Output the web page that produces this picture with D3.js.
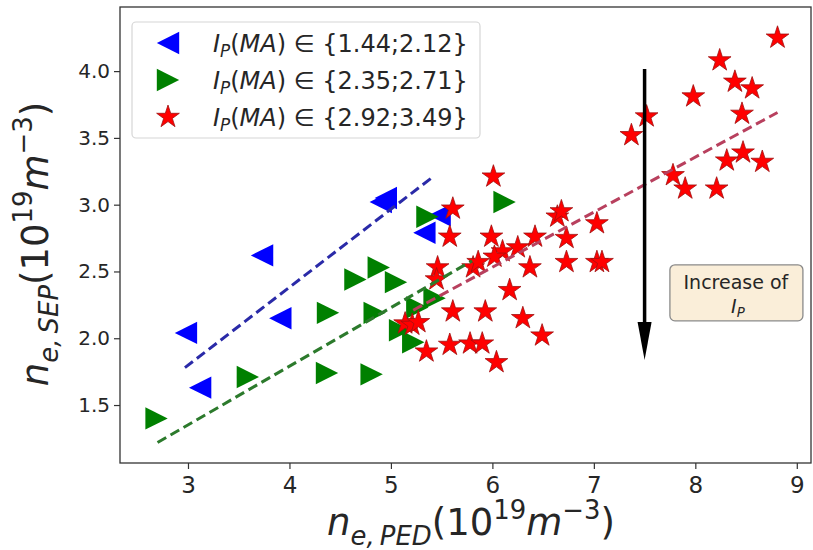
<!DOCTYPE html>
<html><head><meta charset="utf-8">
<script src="https://cdn.jsdelivr.net/npm/d3@7"></script>
<style>body{margin:0;background:#fff} text{font-family:"DejaVu Sans",sans-serif;fill:#262626}</style>
</head><body><svg id="c" width="813" height="550"></svg>
<script>
const xTicks=[3,4,5,6,7,8,9];
const yTicks=[1.5,2.0,2.5,3.0,3.5,4.0];
const blueX=[2.98,3.12,3.73,3.91,4.90,4.95,5.33,5.48];
const blueY=[2.04,1.63,2.62,2.15,3.02,3.05,2.79,2.92];
const greenX=[2.69,3.59,4.37,4.81,4.38,4.84,4.65,4.88,5.05,5.43,5.26,5.09,5.22,5.36,6.12];
const greenY=[1.40,1.71,1.74,1.73,2.19,2.19,2.44,2.53,2.42,2.30,2.23,2.06,1.97,2.91,3.02];
const redX=[8.81,8.24,8.39,8.56,7.98,8.46,7.52,7.37,8.31,8.47,8.66,7.78,7.90,8.21,6.01,5.61,5.58,5.99,6.42,6.64,6.68,6.73,7.03,7.03,6.73,6.37,6.10,6.25,5.81,5.86,6.02,5.46,5.45,6.17,5.61,5.93,6.30,6.49,5.78,5.90,5.58,5.35,6.04,5.14,5.21,5.27,7.08];
const redY=[4.25,4.08,3.92,3.87,3.81,3.68,3.66,3.52,3.33,3.39,3.32,3.22,3.12,3.12,3.21,2.97,2.76,2.76,2.76,2.91,2.95,2.75,2.86,2.57,2.57,2.53,2.65,2.68,2.53,2.57,2.61,2.53,2.44,2.36,2.20,2.20,2.15,2.02,1.96,1.96,1.95,1.90,1.82,2.11,2.10,2.12,2.57];
const blueFit=[[2.97,1.78],[5.40,3.20]];
const greenFit=[[2.70,1.22],[5.80,2.58]];
const redFit=[[5.22,2.21],[8.81,3.69]];
const legendRanges=["{1.44;2.12}","{2.35;2.71}","{2.92;3.49}"];
const arrow={x:7.5,y0:4.015,y1:1.837};
const noteAt=[8.40,2.34];

const svg=d3.select('#c');
const x=d3.scaleLinear().domain([2.33,9.14]).range([120,811]);
const y=d3.scaleLinear().domain([1.066,4.48]).range([463,7]);

const triLeft={draw(c,s){const h=Math.sqrt(s)/2;c.moveTo(-h,0);c.lineTo(h,-h);c.lineTo(h,h);c.closePath();}};
const triRight={draw(c,s){const h=Math.sqrt(s)/2;c.moveTo(h,0);c.lineTo(-h,-h);c.lineTo(-h,h);c.closePath();}};
const TRI=500, STAR=160;

function rich(sel,segs,size){
  const t=sel.append('text').attr('font-size',size);
  let cur=0;
  segs.forEach(s=>{
    const sc=s.sc||1, sh=(s.sh||0)*size;
    t.append('tspan').text(s.t).attr('font-style',s.i?'italic':'normal').attr('font-size',size*sc).attr('dy',sh-cur);
    cur=sh;
  });
  return t;
}

// axes
const xa=svg.append('g').attr('transform','translate(0,463)')
  .call(d3.axisBottom(x).tickValues(xTicks).tickSize(6).tickPadding(8).tickFormat(d3.format('d')));
const ya=svg.append('g').attr('transform','translate(120,0)')
  .call(d3.axisLeft(y).tickValues(yTicks).tickSize(6).tickPadding(4).tickFormat(d3.format('.1f')));
[xa,ya].forEach(a=>{a.select('.domain').remove();a.selectAll('line').attr('stroke','#333').attr('stroke-width',1.2);
  a.selectAll('text').attr('font-family','DejaVu Sans').attr('fill','#333');});
xa.selectAll('text').attr('font-size',23);
ya.selectAll('text').attr('font-size',20);

// markers
const gB=svg.append('g'), gG=svg.append('g'), gR=svg.append('g');
gG.selectAll('path').data(greenX.map((v,i)=>[v,greenY[i]])).join('path')
  .attr('transform',d=>`translate(${x(d[0])},${y(d[1])})`).attr('d',d3.symbol(triRight,TRI)).attr('fill','#008000');
gB.selectAll('path').data(blueX.map((v,i)=>[v,blueY[i]])).join('path')
  .attr('transform',d=>`translate(${x(d[0])},${y(d[1])})`).attr('d',d3.symbol(triLeft,TRI)).attr('fill','#0000ff');
gR.selectAll('path').data(redX.map((v,i)=>[v,redY[i]])).join('path')
  .attr('transform',d=>`translate(${x(d[0])},${y(d[1])})`).attr('d',d3.symbol(d3.symbolStar,STAR))
  .attr('fill','#ff0000').attr('stroke','#a01010').attr('stroke-width',0.8);

// fit lines
const line=d3.line().x(d=>x(d[0])).y(d=>y(d[1]));
[[blueFit,'#2a2aa8'],[greenFit,'#2c7a2c'],[redFit,'#b8405e']].forEach(([d,c])=>{
  svg.append('path').attr('d',line(d)).attr('stroke',c).attr('stroke-width',3).attr('fill','none').attr('stroke-dasharray','10,5');
});

// arrow
const ax=x(arrow.x), ay0=y(arrow.y0), ay1=y(arrow.y1);
svg.append('line').attr('x1',ax).attr('x2',ax).attr('y1',ay0).attr('y2',ay1-30).attr('stroke','#000').attr('stroke-width',3.5);
svg.append('path').attr('d',`M${ax-7},${ay1-38}L${ax+7},${ay1-38}L${ax},${ay1}Z`).attr('fill','#000');

// note box
const nx=x(noteAt[0]), ny=y(noteAt[1]);
const ng=svg.append('g');
const nr=ng.append('rect');
ng.append('text').attr('x',nx).attr('y',ny-4).attr('text-anchor','middle').attr('font-size',19).text('Increase of');
rich(ng,[{t:'I',i:true},{t:'P',i:true,sc:0.7,sh:0.22}],19).attr('x',nx+2).attr('y',ny+20).attr('text-anchor','middle');
nr.attr('x',nx-66).attr('y',ny-28).attr('width',133).attr('height',56).attr('rx',5)
  .attr('fill','#faeed9').attr('stroke','#8a8a8a').attr('stroke-width',1.3);

// frame
svg.append('rect').attr('x',120).attr('y',7).attr('width',691).attr('height',456).attr('fill','none').attr('stroke','#333').attr('stroke-width',1.3);

// legend
const lg=svg.append('g');
lg.append('rect').attr('x',132).attr('y',22).attr('width',348).attr('height',116).attr('rx',4)
  .attr('fill','rgba(255,255,255,0.85)').attr('stroke','#d6d6d6').attr('stroke-width',1.2);
const legSym=[[triLeft,'#0000ff'],[triRight,'#008000'],[d3.symbolStar,'#ff0000']];
legendRanges.forEach((r,i)=>{
  const yy=43+i*37;
  lg.append('path').attr('transform',`translate(168,${yy})`)
    .attr('d',d3.symbol(legSym[i][0],i==2?STAR:TRI)).attr('fill',legSym[i][1])
    .attr('stroke',i==2?'#a01010':'none').attr('stroke-width',0.8);
  rich(lg,[{t:'I',i:true},{t:'P',i:true,sc:0.7,sh:0.2},{t:'('},{t:'MA',i:true},{t:') \u2208 '},{t:r}],24)
    .attr('x',213).attr('y',yy+9);
});

// axis labels
rich(svg,[{t:'n',i:true},{t:'e,\u2009PED',i:true,sc:0.7,sh:0.28},{t:'(10'},{t:'19',sc:0.7,sh:-0.42},{t:'m',i:true},{t:'\u22123',sc:0.7,sh:-0.42},{t:')'}],37)
  .attr('x',471).attr('y',535).attr('text-anchor','middle');
const yl=svg.append('g').attr('transform','translate(48,244) rotate(-90)');
rich(yl,[{t:'n',i:true},{t:'e,\u2009SEP',i:true,sc:0.7,sh:0.28},{t:'(10'},{t:'19',sc:0.7,sh:-0.42},{t:'m',i:true},{t:'\u22123',sc:0.7,sh:-0.42},{t:')'}],37)
  .attr('x',0).attr('y',0).attr('text-anchor','middle');
</script></body></html>
